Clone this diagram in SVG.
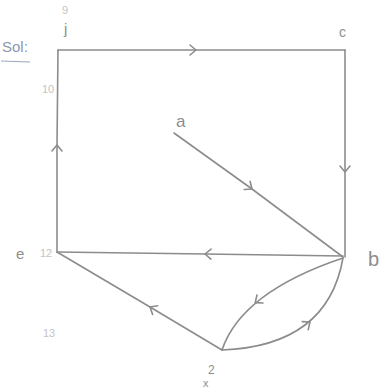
<svg xmlns="http://www.w3.org/2000/svg" width="388" height="389" viewBox="0 0 388 389">
<style>
.e{fill:none;stroke:#8c8c8c;stroke-width:1.6;stroke-linecap:round}
.ar{fill:none;stroke:#8c8c8c;stroke-width:1.6;stroke-linecap:round;stroke-linejoin:round}
.lb{font-family:"Liberation Sans",Arial,sans-serif;fill:#8e8e8e}
.ln{font-family:"Liberation Sans",Arial,sans-serif;fill:#c4c4c4;font-size:11px}
</style>
<defs>
<marker id="chev" markerUnits="userSpaceOnUse" markerWidth="16" markerHeight="16" refX="0" refY="0" viewBox="-8 -8 16 16" orient="auto">
<path d="M-6,-5 L0,0 L-6,5" class="ar"/>
</marker>
</defs>
<rect width="388" height="389" fill="#ffffff"/>
<g id="page-marks">
<text class="ln" x="62" y="14">9</text>
<text class="ln" x="42" y="93">10</text>
<text class="ln" x="43" y="337">13</text>
<text x="2" y="52" font-family="Liberation Sans,Arial,sans-serif" font-size="15" fill="#8a98b0">Sol:</text>
<line x1="1" y1="61" x2="30" y2="62" stroke="#9aa6bc" stroke-width="1.2"/>
</g>
<g id="connectors">
<polyline class="e" points="58,50 196,50 345,50" marker-mid="url(#chev)"/>
<polyline class="e" points="345,50 345,172 345,257" marker-mid="url(#chev)"/>
<polyline class="e" points="174,133 252,189 343,257" marker-mid="url(#chev)"/>
<polyline class="e" points="343,256 205,254 57,252" marker-mid="url(#chev)"/>
<polyline class="e" points="57,252 57,145 58,50" marker-mid="url(#chev)"/>
<polyline class="e" points="222,350 150,307 57,252" marker-mid="url(#chev)"/>
<path class="e" d="M343,258 Q241.5,292 222,350"/>
<path class="ar" d="M0,-5 L6,0 L0,5" transform="translate(260,299) rotate(143)"/>
<path class="e" d="M222,350 Q327.5,346 343,258"/>
<path class="ar" d="M-6,-5 L0,0 L-6,5" transform="translate(310,322) rotate(-37)"/>
</g>
<g id="node-j"><text class="lb" x="64" y="34" font-size="15">j</text></g>
<g id="node-c"><text class="lb" x="339" y="37" font-size="14">c</text></g>
<g id="node-a"><text class="lb" x="176" y="127" font-size="17">a</text></g>
<g id="node-b"><text class="lb" x="368" y="266" font-size="20">b</text></g>
<g id="node-e"><text class="lb" x="16" y="259" font-size="15">e</text><text class="ln" x="40" y="257">12</text></g>
<g id="node-bottom"><text class="lb" x="208" y="374" font-size="12">2</text><text class="lb" x="203" y="387" font-size="11">x</text></g>
</svg>
